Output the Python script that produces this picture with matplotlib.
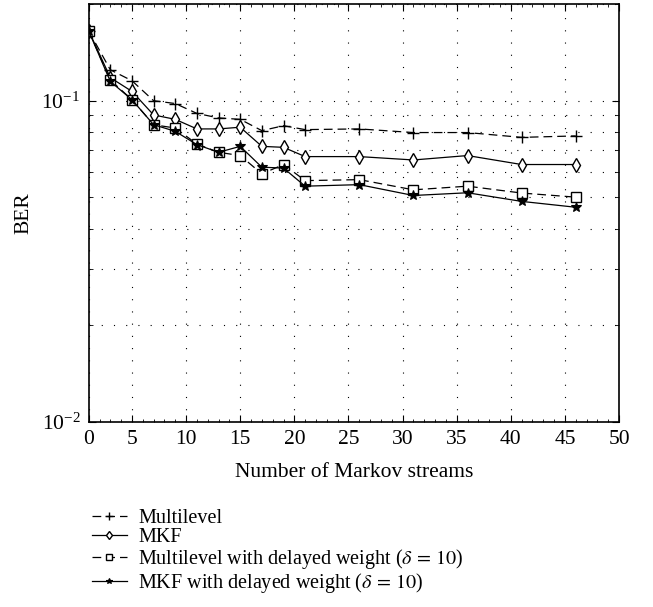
import numpy as np
import matplotlib
matplotlib.use("Agg")
import matplotlib.pyplot as plt
from matplotlib.ticker import FixedLocator, NullFormatter

# number of Markov streams
streams = [1, 3, 5, 7, 9, 11, 13, 15, 17, 19, 21, 26, 31, 36, 41, 46]

ber_multilevel = [0.165, 0.1248, 0.1154, 0.100, 0.098, 0.0913, 0.0884, 0.0875,
                  0.0807, 0.0836, 0.0813, 0.0817, 0.0796, 0.0796, 0.0769, 0.0777]
ber_mkf = [0.165, 0.118, 0.1069, 0.0903, 0.0875, 0.0817, 0.0817, 0.0827,
           0.0721, 0.0716, 0.0670, 0.0670, 0.0654, 0.0675, 0.0633, 0.0633]
ber_multilevel_delay = [0.165, 0.116, 0.1007, 0.0842, 0.0822, 0.0733, 0.0691, 0.0675,
                        0.0592, 0.0633, 0.0564, 0.0568, 0.0528, 0.0542, 0.0516, 0.0501]
ber_mkf_delay = [0.165, 0.1148, 0.1007, 0.0842, 0.0803, 0.0730, 0.0691, 0.0721,
                 0.0621, 0.0617, 0.0542, 0.0548, 0.0507, 0.0517, 0.0486, 0.0466]

x_ticks = [1, 5, 10, 15, 20, 25, 30, 35, 40, 45, 50]
x_tick_labels = ["0", "5", "10", "15", "20", "25", "30", "35", "40", "45", "50"]

labels = ["Multilevel", "MKF",
          r"Multilevel with delayed weight ($\delta\,=\,10$)",
          r"MKF with delayed weight ($\delta\,=\,10$)"]

plt.rcParams["font.family"] = ["Liberation Serif", "DejaVu Serif"]
plt.rcParams["mathtext.fontset"] = "stix"
plt.rcParams["font.size"] = 14

fig = plt.figure(figsize=(6.53, 6.07), dpi=100)
ax = fig.add_axes([0.1358, 0.3048, 0.8122, 0.6886])

ax.plot(streams, ber_multilevel, color="black", lw=0.9, ls=(0, (7, 4)),
        marker="+", ms=9, mew=1.0, label=labels[0])
ax.plot(streams, ber_mkf, color="black", lw=0.9, ls="-",
        marker="d", ms=7.5, mew=1.0, mfc="white", label=labels[1])
ax.plot(streams, ber_multilevel_delay, color="black", lw=0.9, ls=(0, (7, 4)),
        marker="s", ms=6.5, mew=1.0, mfc="white", label=labels[2])
ax.plot(streams, ber_mkf_delay, color="black", lw=0.9, ls="-",
        marker="*", ms=7, mew=0.8, label=labels[3])

ax.set_yscale("log")
ax.set_xlim(1, 50)
ax.set_ylim(0.01, 0.2)
ax.set_xticks(x_ticks)
ax.set_xticklabels(x_tick_labels)
ax.xaxis.set_minor_locator(FixedLocator(np.arange(2, 50, 1)))
ax.yaxis.set_minor_formatter(NullFormatter())

ax.grid(True, which="major", axis="x", ls=(0, (1, 10)), color="black", lw=0.8)
ax.grid(True, which="both", axis="y", ls=(0, (1, 10)), color="black", lw=0.8)
ax.tick_params(which="both", direction="in", top=True, right=True, color="black")
ax.tick_params(which="major", length=5, width=0.8, pad=6, labelsize=15.5)
ax.tick_params(axis="x", which="minor", length=2.5, width=0.6)
ax.tick_params(axis="y", which="minor", length=3, width=0.6)
for s in ax.spines.values():
    s.set_linewidth(1.2)

ax.set_xlabel("Number of Markov streams", fontsize=15.5, labelpad=10)
ax.set_ylabel("BER", fontsize=15.5, labelpad=6)

fig.legend(loc="upper left", bbox_to_anchor=(0.128, 0.175), frameon=False,
           handlelength=1.75, handletextpad=0.55, labelspacing=0.0,
           borderaxespad=0, markerscale=0.6, fontsize=14.5)

fig.savefig("out.png", dpi=100)
